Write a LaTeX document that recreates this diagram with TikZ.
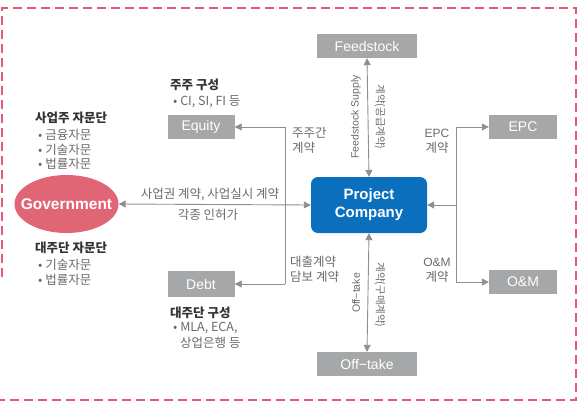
\documentclass[tikz,border=0pt]{standalone}
\usepackage{fontspec}
\setmainfont{Noto Sans CJK KR}
\newfontfamily\latinf{Liberation Sans}
\usetikzlibrary{arrows.meta,shapes.geometric}
\definecolor{boxgray}{HTML}{A6A7A9}
\definecolor{pcblue}{HTML}{0A70BE}
\definecolor{govred}{HTML}{E06676}
\definecolor{linegray}{HTML}{8E8E8E}
\definecolor{labgray}{HTML}{6A6A6A}
\definecolor{headdark}{HTML}{333333}
\definecolor{borderpink}{HTML}{E35B74}
\tikzset{
  graybox/.style={fill=boxgray, text=white, minimum height=24pt, inner sep=0pt, font=\latinf\fontsize{14}{14}\selectfont},
  conn/.style={draw=linegray, line width=0.9pt},
  tip/.style={-{Triangle[length=7pt,width=7pt]}},
  tips/.style={{Triangle[length=7pt,width=7pt]}-{Triangle[length=7pt,width=7pt]}},
  lab/.style={text=labgray, font=\fontsize{12.5}{15}\selectfont, inner sep=0pt},
  head/.style={text=headdark, font=\bfseries\fontsize{12.5}{15}\selectfont, inner sep=0pt},
}
\begin{document}
\begin{tikzpicture}[x=1pt,y=-1pt]
\useasboundingbox (0,0) rectangle (583,405);
% border
\draw[borderpink, line width=2.5pt, dash pattern=on 9pt off 5pt] (2,277) -- (2,8) -- (576,8) -- (576,400) -- (0,400);
% nodes
\node[graybox, minimum width=100pt] (feed) at (367,46) {Feedstock};
\node[graybox, minimum width=68pt] (epc) at (523,127) {EPC};
\node[graybox, minimum width=68pt] (om) at (523,282) {O\&M};
\node[graybox, minimum width=100pt] (off) at (367,364) {Off{\char"2212}take};
\node[graybox, minimum width=67pt] (eq) at (201,127) {Equity};
\node[graybox, minimum width=67pt, minimum height=26pt] (debt) at (201,284) {Debt};
\node[fill=pcblue, text=white, rounded corners=7pt, minimum width=116pt, minimum height=56pt, inner sep=0pt, align=center, font=\latinf\bfseries\fontsize{15}{18}\selectfont] (pc) at (369,205) {Project\\Company};
\fill[govred] (66.5,204) ellipse [x radius=52pt, y radius=29pt];
\node[minimum width=104pt, minimum height=58pt, inner sep=0pt, text=white, font=\latinf\bfseries\fontsize{15.5}{16}\selectfont] (gov) at (66.5,204) {Government};
% coordinates
\coordinate (lt) at (285,127);
\coordinate (lb) at (285,284);
\coordinate (rt) at (456,127);
\coordinate (rm) at (456,205);
\coordinate (rb) at (456,282);
% connectors
\draw[conn, tips] (gov.east) -- (pc.west);
\draw[conn] (lt) -- (lb);
\draw[conn, tip] (lt) -- (eq.east);
\draw[conn, tip] (lb) -- (debt.east);
\draw[conn, tips] (feed.south) -- (pc.north);
\draw[conn, tips] (pc.south) -- (off.north);
\draw[conn] (rt) -- (rb);
\draw[conn, tip] (rt) -- (epc.west);
\draw[conn, tip] (rb) -- (om.west);
\draw[conn, tip] (rm) -- (pc.east);
% labels
\node[head, anchor=west] (h1) at (170,85) {주주 구성};
\node[lab, anchor=west] (l1) at (173,102) {• CI, SI, FI 등};
\node[head, anchor=west] (h2) at (35,118) {사업주 자문단};
\node[lab, anchor=west] (l2a) at (38,135) {• 금융자문};
\node[lab, anchor=west] (l2b) at (38,150) {• 기술자문};
\node[lab, anchor=west] (l2c) at (38,164) {• 법률자문};
\node[lab, anchor=west] (l3a) at (292,133) {주주간};
\node[lab, anchor=west] (l3b) at (292,148) {계약};
\node[lab, rotate=90, font=\latinf\fontsize{10.5}{12}\selectfont] (l4) at (356,117) {Feedstock Supply};
\node[lab, rotate=-90, font=\fontsize{10.5}{12}\selectfont] (l5) at (380,117) {계약(공급계약)};
\node[lab, font=\latinf\fontsize{12}{14}\selectfont] (l6a) at (437,133) {EPC};
\node[lab] (l6b) at (437,148) {계약};
\node[lab] (l7) at (210,195) {사업권 계약, 사업실시 계약};
\node[lab] (l8) at (208,215) {각종 인허가};
\node[head, anchor=west] (h3) at (35,248) {대주단 자문단};
\node[lab, anchor=west] (l9a) at (38,265) {• 기술자문};
\node[lab, anchor=west] (l9b) at (38,280) {• 법률자문};
\node[lab, anchor=west] (l10a) at (290,262) {대출계약};
\node[lab, anchor=west] (l10b) at (290,277) {담보 계약};
\node[lab, font=\latinf\fontsize{12}{14}\selectfont] (l11a) at (437,262) {O\&M};
\node[lab] (l11b) at (437,277) {계약};
\node[lab, rotate=90, font=\latinf\fontsize{10.5}{12}\selectfont] (l12) at (356,293) {Off{\char"2212}take};
\node[lab, rotate=-90, font=\fontsize{10.5}{12}\selectfont] (l13) at (380,295) {계약(구매계약)};
\node[head, anchor=west] (h4) at (170,313) {대주단 구성};
\node[lab, anchor=west] (l14a) at (173,328) {• MLA, ECA,};
\node[lab, anchor=west] (l14b) at (180,343) {상업은행 등};
\end{tikzpicture}
\end{document}
